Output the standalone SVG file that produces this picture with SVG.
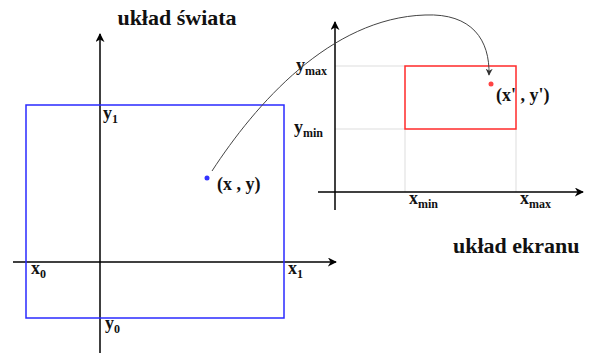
<svg xmlns="http://www.w3.org/2000/svg" width="592" height="353" viewBox="0 0 592 353">
<style>
text{font-family:"Liberation Serif","Times New Roman",serif;font-weight:bold;fill:#111}
.t{font-size:22px}
.l{font-size:18px}
.s{font-size:12px}
.ax{stroke:#000;stroke-width:1.5;fill:none}
.gr{stroke:#ddd;stroke-width:1;fill:none}
</style>
<defs>
<marker id="ah" viewBox="0 0 10 10" refX="9" refY="5" markerWidth="9" markerHeight="9" markerUnits="userSpaceOnUse" orient="auto">
<path d="M0,0 L10,5 L0,10 L3,5 Z" fill="#000"/>
</marker>
<marker id="ah2" viewBox="0 0 10 10" refX="9" refY="5" markerWidth="7" markerHeight="7" markerUnits="userSpaceOnUse" orient="auto">
<path d="M0,0 L10,5 L0,10 L3,5 Z" fill="#333"/>
</marker>
</defs>
<rect width="592" height="353" fill="#fff"/>
<g id="world">
<text class="t" x="177" y="25" text-anchor="middle">układ świata</text>
<line class="ax" x1="100" y1="353" x2="100" y2="34" marker-end="url(#ah)"/>
<line class="ax" x1="13" y1="262" x2="336" y2="262" marker-end="url(#ah)"/>
<rect x="26" y="105" width="258" height="213" fill="none" stroke="#2a2aff" stroke-width="1.5"/>
<text class="l" x="103" y="119">y<tspan class="s" dy="4">1</tspan></text>
<text class="l" x="31" y="274">x<tspan class="s" dy="4">0</tspan></text>
<text class="l" x="288" y="274">x<tspan class="s" dy="4">1</tspan></text>
<text class="l" x="105" y="329">y<tspan class="s" dy="4">0</tspan></text>
<circle cx="207" cy="178" r="2.5" fill="#3333ff"/>
<text class="l" x="217" y="190">(x , y)</text>
</g>
<g id="screen">
<line class="gr" x1="335" y1="66" x2="405" y2="66"/>
<line class="gr" x1="335" y1="129" x2="405" y2="129"/>
<line class="gr" x1="405" y1="129" x2="405" y2="192"/>
<line class="gr" x1="516" y1="129" x2="516" y2="192"/>
<line class="ax" x1="335" y1="210" x2="335" y2="22" marker-end="url(#ah)"/>
<line class="ax" x1="318" y1="192" x2="583" y2="192" marker-end="url(#ah)"/>
<rect x="405" y="66" width="111" height="63" fill="none" stroke="#ff2a2a" stroke-width="1.5"/>
<text class="l" x="296" y="71">y<tspan class="s" dy="4">max</tspan></text>
<text class="l" x="294" y="133">y<tspan class="s" dy="4">min</tspan></text>
<text class="l" x="409" y="204">x<tspan class="s" dy="4">min</tspan></text>
<text class="l" x="520" y="204">x<tspan class="s" dy="4">max</tspan></text>
<circle cx="491" cy="84" r="2.5" fill="#ff4444"/>
<text class="l" x="496" y="101">(x' , y')</text>
<text class="t" x="453" y="253">układ ekranu</text>
</g>
<g id="connectors">
<path d="M212,171 C255,105 330,18 425,15 C472,13 490,40 489,75" fill="none" stroke="#444" stroke-width="1" marker-end="url(#ah2)"/>
</g>
</svg>
